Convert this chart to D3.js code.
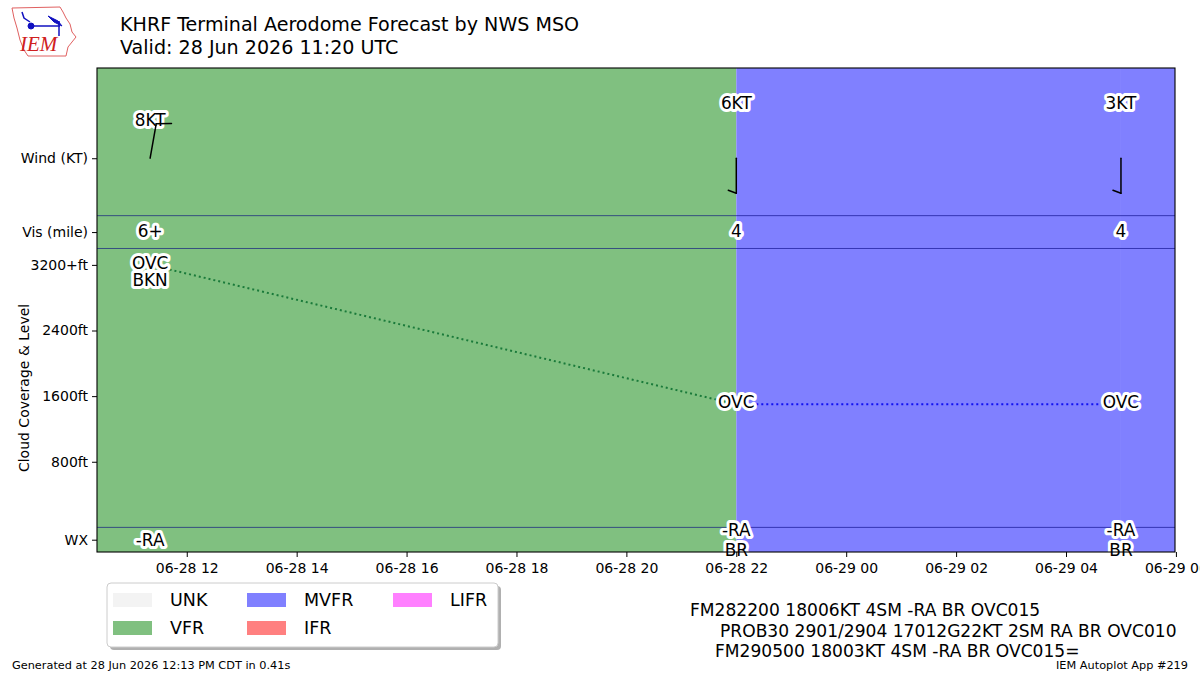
<!DOCTYPE html>
<html>
<head>
<meta charset="utf-8">
<script src="https://cdn.jsdelivr.net/npm/d3@7"></script>
<style>
  body { margin: 0; background: #fff; }
  svg { font-family: "DejaVu Sans", sans-serif; display: block; }
  .halo { paint-order: stroke; stroke: #fff; stroke-width: 6px; stroke-linejoin: round; }
</style>
</head>
<body>
<div id="chart"></div>
<script>
// forecast groups
const validTimes = ["2026-06-28T11:20Z", "2026-06-28T22:00Z", "2026-06-29T05:00Z"];
const flightCats = ["VFR", "MVFR", "MVFR"];
const windDir = [10, 180, 180];
const windSpeed = [8, 6, 3];
const visLabels = ["6+", "4", "4"];
const cloudLevel = [3200, 1500, 1500];
const cloudLabels = [["OVC", "BKN"], ["OVC"], ["OVC"]];
const wxLabels = [["-RA"], ["-RA", "BR"], ["-RA", "BR"]];

const yTickValues = [4500, 3600, 3200, 2400, 1600, 800, -150];
const yTickLabels = ["Wind (KT)", "Vis (mile)", "3200+ft", "2400ft", "1600ft", "800ft", "WX"];
const rowLines = [3800, 3400, 0];

const legendLabels = ["UNK", "VFR", "MVFR", "IFR", "LIFR"];
const legendColors = ["#f3f3f3", "#80c080", "#8080ff", "#ff8080", "#ff80ff"];
const lineColors = {VFR: "#1a7a3a", MVFR: "#1010f0", IFR: "#ff0000", LIFR: "#ff00ff", UNK: "#999"};

const tafLines = [
  "FM282200 18006KT 4SM -RA BR OVC015",
  "PROB30 2901/2904 17012G22KT 2SM RA BR OVC010",
  "FM290500 18003KT 4SM -RA BR OVC015="
];

const width = 1200, height = 675;
const pLeft = 97, pRight = 1175, pTop = 68, pBottom = 552;

const svg = d3.select("#chart").append("svg")
    .attr("width", width)
    .attr("height", height);

const times = validTimes.map(t => new Date(t));
const tStart = new Date("2026-06-28T10:22Z"), tEnd = new Date("2026-06-29T05:59Z");

const x = d3.scaleUtc().domain([tStart, tEnd]).range([pLeft, pRight]);
const y = d3.scaleLinear().domain([-300, 5600]).range([pBottom, pTop]);
const catColor = c => legendColors[legendLabels.indexOf(c)];

// background shading by flight category
const spans = times.map((t, i) => ({
  x0: i === 0 ? tStart : t,
  x1: i < times.length - 1 ? times[i + 1] : tEnd,
  cat: flightCats[i]
}));
svg.append("g").selectAll("rect")
  .data(spans)
  .join("rect")
    .attr("x", d => x(d.x0))
    .attr("width", d => x(d.x1) - x(d.x0))
    .attr("y", pTop)
    .attr("height", pBottom - pTop)
    .attr("fill", d => catColor(d.cat));

svg.append("g").selectAll("line")
  .data(rowLines)
  .join("line")
    .attr("x1", pLeft).attr("x2", pRight)
    .attr("y1", d => y(d)).attr("y2", d => y(d))
    .attr("stroke", "#000080")
    .attr("stroke-opacity", 0.6)
    .attr("stroke-width", 1);

// cloud level line
const segs = d3.pairs(times.map((t, i) => ({t: t, v: cloudLevel[i], cat: flightCats[i]})));
svg.append("g").selectAll("line")
  .data(segs)
  .join("line")
    .attr("x1", d => x(d[0].t)).attr("y1", d => y(d[0].v))
    .attr("x2", d => x(d[1].t)).attr("y2", d => y(d[1].v))
    .attr("stroke", d => lineColors[d[0].cat])
    .attr("stroke-width", 2)
    .attr("stroke-dasharray", "2,3");

const labelFont = "16.9px";
function halo(g, tx, ty, txt) {
  g.append("text").attr("class", "halo")
    .attr("x", tx).attr("y", ty)
    .attr("text-anchor", "middle").attr("dominant-baseline", "central")
    .style("font-size", labelFont)
    .text(txt);
}
const labels = svg.append("g");
times.forEach((t, i) => {
  const cx = x(t);
  const up = Math.cos(windDir[i] * Math.PI / 180) > 0;
  halo(labels, cx, up ? y(4500) - 38 : y(4500) - 55, windSpeed[i] + "KT");
  halo(labels, cx, y(3600) - 1, visLabels[i]);
  cloudLabels[i].forEach((c, j) => halo(labels, cx, y(cloudLevel[i]) - 2 + j * 17, c));
  const n = wxLabels[i].length;
  wxLabels[i].forEach((w, j) => halo(labels, cx, y(-150) + (j - (n - 1) / 2) * 20, w));
});

// wind barbs (drawn over the labels)
function barb(g, sx, sy, dir, spd) {
  const L = 35;
  const r = dir * Math.PI / 180;
  const dx = Math.sin(r), dy = -Math.cos(r);
  const px = -dy, py = dx;
  const tx = sx + L * dx, ty = sy + L * dy;
  g.append("line").attr("x1", sx).attr("y1", sy).attr("x2", tx).attr("y2", ty);
  let s = Math.round(spd / 5) * 5;
  let pos = 0;
  while (s >= 10) {
    const bx = tx - pos * dx, by = ty - pos * dy;
    g.append("line").attr("x1", bx).attr("y1", by)
      .attr("x2", bx + 15 * px + 3 * dx).attr("y2", by + 15 * py + 3 * dy);
    s -= 10; pos += 5;
  }
  if (s >= 5) {
    const bx = tx - pos * dx, by = ty - pos * dy;
    g.append("line").attr("x1", bx).attr("y1", by)
      .attr("x2", bx + 8 * px - 3 * dx).attr("y2", by + 8 * py - 3 * dy);
  }
}
const barbs = svg.append("g").attr("stroke", "#000").attr("stroke-width", 1.5).attr("stroke-linecap", "round");
times.forEach((t, i) => barb(barbs, x(t), y(4500), windDir[i], windSpeed[i]));

// frame
svg.append("rect")
    .attr("x", pLeft).attr("y", pTop)
    .attr("width", pRight - pLeft).attr("height", pBottom - pTop)
    .attr("fill", "none").attr("stroke", "#000").attr("stroke-width", 1.1);

// axes
const xAxis = svg.append("g")
    .attr("transform", `translate(0,${pBottom})`)
    .call(d3.axisBottom(x).tickValues(d3.utcHour.every(2).range(tStart, new Date("2026-06-29T06:01Z")))
      .tickFormat(d3.utcFormat("%m-%d %H")).tickSize(5).tickPadding(6));
const yAxis = svg.append("g")
    .attr("transform", `translate(${pLeft},0)`)
    .call(d3.axisLeft(y).tickValues(yTickValues).tickFormat((d, i) => yTickLabels[i]).tickSize(5).tickPadding(4));
[xAxis, yAxis].forEach(a => {
  a.select(".domain").remove();
  a.selectAll("text").attr("fill", "#000").style("font-size", "14px").style("font-family", "DejaVu Sans");
  a.selectAll("line").attr("stroke", "#000");
});

svg.append("text")
    .attr("transform", `translate(29,${(y(3400) + y(0)) / 2}) rotate(-90)`)
    .attr("text-anchor", "middle")
    .style("font-size", "14px")
    .text("Cloud Coverage & Level");

// titles
svg.append("text").attr("x", 120).attr("y", 31).style("font-size", "19.1px")
    .text("KHRF Terminal Aerodome Forecast by NWS MSO");
svg.append("text").attr("x", 120).attr("y", 54).style("font-size", "19.1px")
    .text("Valid: 28 Jun 2026 11:20 UTC");

// legend
const lg = svg.append("g").attr("transform", "translate(107,583)");
lg.append("rect").attr("x", 3).attr("y", 3).attr("width", 391).attr("height", 64)
    .attr("rx", 4).attr("fill", "#b0b0b0");
lg.append("rect").attr("width", 391).attr("height", 64)
    .attr("rx", 4).attr("fill", "#fff").attr("stroke", "#ccc").attr("stroke-width", 1);
const colX = [6, 140, 286];
legendLabels.forEach((l, i) => {
  const cx = colX[Math.floor(i / 2)], cy = 17 + (i % 2) * 28;
  lg.append("rect").attr("x", cx).attr("y", cy - 7).attr("width", 39).attr("height", 14)
      .attr("fill", legendColors[i]);
  lg.append("text").attr("x", cx + 57).attr("y", cy).attr("dominant-baseline", "central")
      .style("font-size", "17.5px").text(l);
});

// raw TAF text
const tafX = [690, 720, 715];
tafLines.forEach((s, i) => {
  svg.append("text").attr("x", tafX[i]).attr("y", 610 + i * 20.5)
      .attr("dominant-baseline", "central")
      .style("font-size", "17.1px").text(s);
});

// footer
svg.append("text").attr("x", 12).attr("y", 669).style("font-size", "11.3px")
    .text("Generated at 28 Jun 2026 12:13 PM CDT in 0.41s");
svg.append("text").attr("x", 1188).attr("y", 669).attr("text-anchor", "end").style("font-size", "11.3px")
    .text("IEM Autoplot App #219");

// IEM logo
const logo = svg.append("g");
logo.append("path")
    .attr("d", "M12,8 L60,7 L63,12 L66,18 L70,24 L72,32 L76,37 L72,42 L68,47 L66,56 L28,56 L24,50 L20,40 L17,28 L14,18 Z")
    .attr("fill", "none").attr("stroke", "#e06060").attr("stroke-width", 1);
const vane = logo.append("g").attr("stroke", "#1010c0").attr("fill", "#1010c0");
vane.append("line").attr("x1", 31).attr("y1", 26).attr("x2", 60).attr("y2", 26).attr("stroke-width", 1.5);
vane.append("circle").attr("cx", 31).attr("cy", 26).attr("r", 3);
vane.append("path").attr("d", "M48,16 L58,21 L62,26 L54,22 Z");
vane.append("line").attr("x1", 59).attr("y1", 21).attr("x2", 59).attr("y2", 36).attr("stroke-width", 1.5);
vane.append("path").attr("d", "M22,12 L24,18 L30,22").attr("fill", "none").attr("stroke-width", 1.5);
logo.append("text").attr("x", 20).attr("y", 51)
    .style("font-family", "Liberation Serif, serif").style("font-style", "italic")
    .style("font-size", "21px").attr("fill", "#d02020").text("IEM");
</script>
</body>
</html>
